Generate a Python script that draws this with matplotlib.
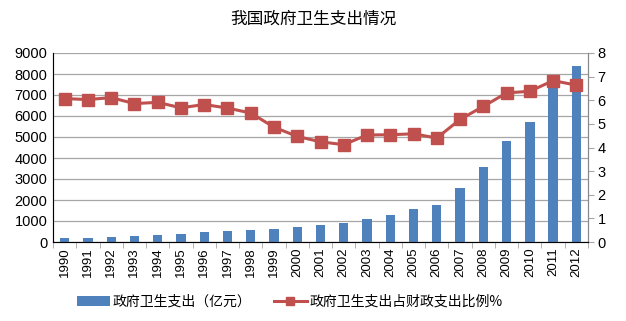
import numpy as np
import matplotlib.pyplot as plt

plt.rcParams['font.family'] = ['Liberation Sans', 'Noto Sans CJK SC', 'DejaVu Sans']

years = [str(y) for y in range(1990, 2013)]
spending = [187, 204, 229, 272, 342, 387, 462, 524, 590, 641, 710, 801, 909,
            1117, 1294, 1553, 1779, 2582, 3594, 4816, 5732, 7464, 8366]
share = [6.07, 6.03, 6.11, 5.86, 5.91, 5.68, 5.82, 5.67, 5.46, 4.86, 4.47, 4.24,
         4.12, 4.53, 4.54, 4.58, 4.40, 5.19, 5.74, 6.31, 6.38, 6.83, 6.64]

bar_color = '#4F81BD'
line_color = '#C0504D'
grid_color = '#A6A6A6'

fig = plt.figure(figsize=(6.26, 3.21), dpi=100)
ax = fig.add_axes([53/626, 1 - 242/321, (588-53)/626, (242-53)/321])
x = np.arange(len(years))
ax.bar(x, spending, width=0.4, color=bar_color, label='政府卫生支出（亿元）', zorder=2)
ax.set_ylim(0, 9000)
ax.set_yticks(range(0, 9001, 1000))
ax.set_xlim(-0.5, len(years) - 0.5)
ax.set_xticks(x)
ax.set_xticklabels(years, rotation=90, fontsize=9.5)
ax.set_xticks(np.arange(-0.5, len(years)), minor=True)
ax.tick_params(axis='x', which='major', length=0, pad=4)
ax.tick_params(axis='x', which='minor', length=4, color=grid_color)
ax.tick_params(axis='y', labelsize=10.5, length=0, pad=4)
ax.yaxis.grid(True, color=grid_color, linewidth=0.9, zorder=0)
ax.set_axisbelow(True)
ax.spines['top'].set_visible(False)
for s in ['left', 'bottom', 'right']:
    ax.spines[s].set_color('#888888')

ax2 = ax.twinx()
ax2.plot(x, share, color=line_color, linewidth=2.2, marker='s', markersize=8.5,
         label='政府卫生支出占财政支出比例%', zorder=3)
ax2.set_ylim(0, 8)
ax2.set_yticks(range(0, 9))
ax2.tick_params(axis='y', labelsize=10.5, length=4, color=grid_color, pad=3)
ax2.spines['top'].set_visible(False)
ax2.spines['right'].set_color('#888888')

fig.text(0.5, 1 - 19/321, '我国政府卫生支出情况', ha='center', va='center',
         fontsize=12, family=['Noto Sans CJK SC'])

h1, l1 = ax.get_legend_handles_labels()
h2, l2 = ax2.get_legend_handles_labels()
fig.legend(h1 + h2, l1 + l2, loc='center', bbox_to_anchor=(0.463, 1 - 302/321),
           ncol=2, frameon=False, handlelength=2.4, handletextpad=0.2,
           columnspacing=1.6, markerscale=0.6,
           prop={'family': ['Noto Sans CJK SC'], 'size': 10})

fig.savefig('out.png', dpi=100)
